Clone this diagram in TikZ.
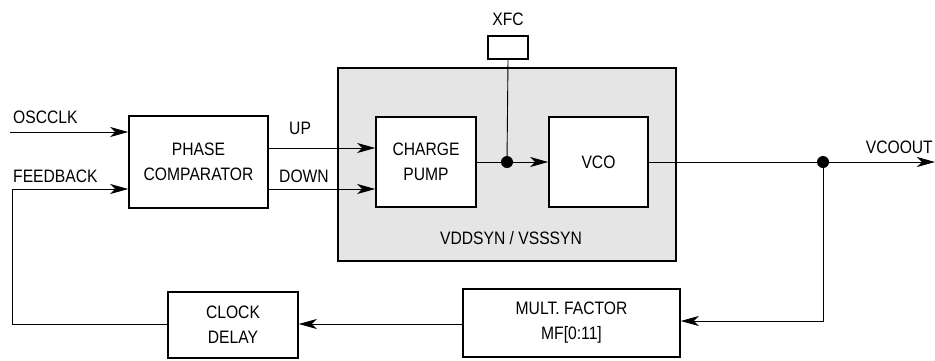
\documentclass[tikz,border=0pt]{standalone}
\usepackage{fontspec}
\setmainfont{Liberation Sans}[FakeStretch=0.87]
\usetikzlibrary{arrows.meta}
\begin{document}
\begin{tikzpicture}[x=1pt,y=-1pt,
  blk/.style={draw,line width=1.6pt,fill=white,align=center,inner sep=0pt,font=\fontsize{18}{25}\selectfont},
  lbl/.style={inner sep=0pt,font=\fontsize{18}{20}\selectfont},
  wire/.style={line width=0.9pt},
  arr/.style={wire,-{Stealth[length=18pt,width=10pt,inset=5pt]}},
  dot/.style={circle,fill=black,inner sep=0pt,minimum size=12pt}]
\useasboundingbox (0,0) rectangle (935,360);
\node[draw,line width=1.4pt,fill=black!10,minimum width=338pt,minimum height=193pt,inner sep=0pt] (pll) at (507,164.5) {};
\node[blk,minimum width=139pt,minimum height=92pt] (pc) at (198.5,162) {PHASE\\COMPARATOR};
\node[blk,minimum width=100pt,minimum height=90pt] (cp) at (426,162) {CHARGE\\PUMP};
\node[blk,minimum width=99pt,minimum height=90pt] (vco) at (598.5,162) {VCO};
\node[blk,line width=1.4pt,minimum width=40pt,minimum height=23pt] (xfc) at (508,47.5) {};
\node[blk,minimum width=217pt,minimum height=68pt] (mf) at (571.5,323) {MULT. FACTOR\\MF[0:11]};
\node[blk,minimum width=130pt,minimum height=66pt] (cd) at (233,325) {CLOCK\\DELAY};
\node[lbl,anchor=base] (xfcl) at (508,25) {XFC};
\node[lbl,anchor=base] (vdd) at (511,244) {VDDSYN / VSSSYN};
\node[lbl,anchor=base west] (oscl) at (13,123) {OSCCLK};
\node[lbl,anchor=base west] (fbl) at (13,182) {FEEDBACK};
\node[lbl,anchor=base west] (upl) at (289,134) {UP};
\node[lbl,anchor=base west] (dnl) at (279,182) {DOWN};
\node[lbl,anchor=base east] (vol) at (933,153) {VCOOUT};
\coordinate (oscin) at (10,132);
\coordinate (upy) at (0,148);
\coordinate (dny) at (0,189);
\coordinate (fby) at (12,189);
\coordinate (fbc) at (12,324);
\coordinate (vout) at (935,162);
\coordinate (mfy) at (823,321);
\node[dot] (d1) at (507,162) {};
\node[dot] (d2) at (823,162) {};
\draw[arr] (oscin) -- (oscin -| pc.west);
\draw[arr] (pc.east |- upy) -- (cp.west |- upy);
\draw[arr] (pc.east |- dny) -- (cp.west |- dny);
\draw[wire] (cp.east) -- (d1);
\draw[arr] (d1) -- (vco.west);
\draw[wire] (xfc.south) -- (d1);
\draw[arr] (vco.east) -- (vout);
\draw[arr] (d2) -- (mfy) -- (mfy -| mf.east);
\draw[arr] (mf.west |- fbc) -- (fbc -| cd.east);
\draw[arr] (cd.west |- fbc) -- (fbc) -- (fby) -- (fby -| pc.west);
\end{tikzpicture}
\end{document}
